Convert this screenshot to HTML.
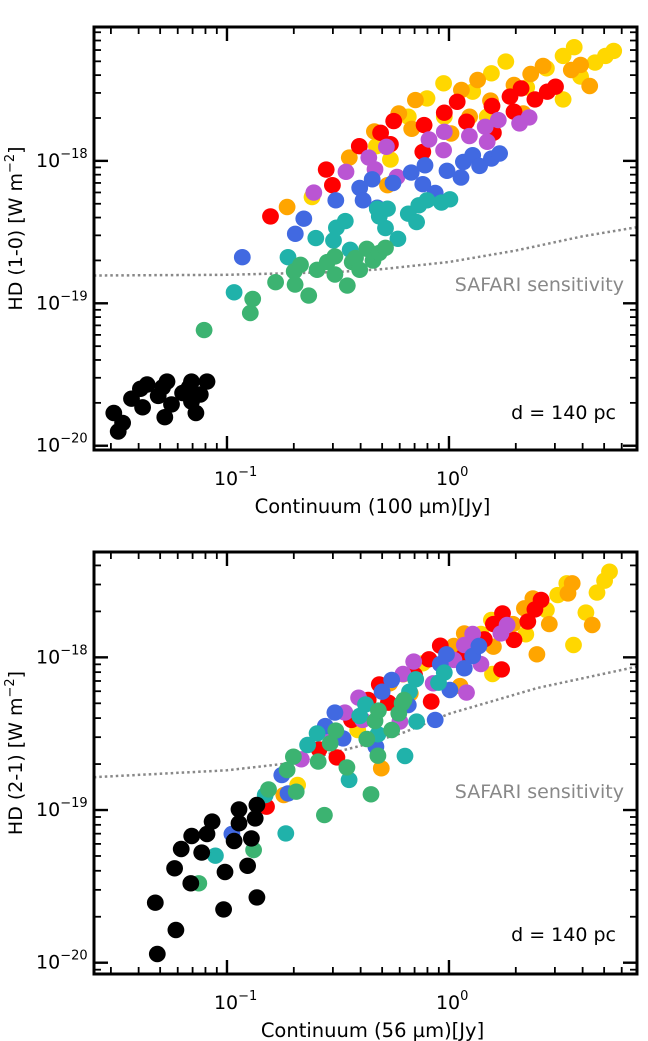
<!DOCTYPE html>
<html><head><meta charset="utf-8">
<style>
html,body{margin:0;padding:0;background:#fff;}
svg{display:block;font-family:"DejaVu Sans","Liberation Sans",sans-serif;}
</style></head>
<body>
<svg id="fig" width="648" height="1041" viewBox="0 0 648 1041" xmlns="http://www.w3.org/2000/svg"></svg>
<script>
// ---------- DATA (log10 values) ----------
const colorNames = ['gold','orange','red','purple','blue','teal','green','black'];
const colorHex = {gold:'#ffd700',orange:'#ffa500',red:'#ff0000',purple:'#ba55d3',blue:'#4169e1',teal:'#20b2aa',green:'#3cb371',black:'#000000'};

const topGoldX=[-0.617,-0.327,-0.264,-0.183,-0.099,-0.024,-0.021,0.107,0.172,0.191,0.256,0.350,0.439,0.514,0.514,0.564,0.593,0.658,0.705,0.742];
const topGoldY=[-18.254,-17.897,-17.991,-17.690,-17.561,-17.455,-17.690,-17.514,-17.690,-17.385,-17.303,-17.484,-17.350,-17.568,-17.263,-17.202,-17.408,-17.310,-17.263,-17.228];
const topOrangeX=[-0.729,-0.449,-0.336,-0.277,-0.226,-0.168,-0.151,0.009,0.056,0.093,0.129,0.187,0.293,0.335,0.368,0.424,0.551,0.593,0.634];
const topOrangeY=[-18.324,-17.977,-17.793,-18.171,-17.667,-17.775,-17.573,-17.808,-17.502,-17.690,-17.432,-17.577,-17.467,-17.667,-17.390,-17.333,-17.362,-17.326,-17.474];
const topRedX=[-0.804,-0.553,-0.525,-0.404,-0.308,-0.264,-0.249,-0.118,-0.112,-0.021,0.037,0.079,0.194,0.200,0.275,0.293,0.325,0.387,0.443,0.480];
const topRedY=[-18.390,-18.061,-18.171,-17.897,-17.803,-17.883,-17.721,-17.937,-17.749,-17.662,-17.585,-17.725,-17.615,-17.803,-17.549,-17.655,-17.491,-17.568,-17.514,-17.479];
const topPurpleX=[-0.609,-0.464,-0.361,-0.333,-0.282,-0.234,-0.090,-0.024,-0.021,0.092,0.172,0.163,0.222,0.318,0.361];
const topPurpleY=[-18.223,-18.077,-17.977,-18.059,-17.901,-18.113,-17.850,-17.925,-17.796,-17.826,-17.866,-17.761,-17.714,-17.737,-17.695];
const topBlueX=[-0.931,-0.692,-0.654,-0.510,-0.402,-0.387,-0.346,-0.323,-0.252,-0.170,-0.118,-0.108,-0.062,-0.009,0.054,0.065,0.107,0.138,0.191,0.228];
const topBlueY=[-18.676,-18.512,-18.406,-18.277,-18.190,-18.277,-18.129,-18.329,-18.155,-18.082,-18.164,-18.031,-18.225,-18.070,-18.117,-18.007,-17.960,-18.035,-17.984,-17.948];
const topTealX=[-0.968,-0.725,-0.600,-0.520,-0.507,-0.467,-0.445,-0.323,-0.314,-0.286,-0.277,-0.230,-0.183,-0.146,-0.136,-0.099,-0.034,0.004];
const topTealY=[-18.923,-18.676,-18.542,-18.559,-18.469,-18.423,-18.624,-18.336,-18.390,-18.472,-18.336,-18.547,-18.371,-18.430,-18.312,-18.277,-18.293,-18.270];
const topGreenX=[-1.103,-0.895,-0.884,-0.781,-0.693,-0.697,-0.669,-0.632,-0.594,-0.548,-0.514,-0.514,-0.458,-0.436,-0.421,-0.402,-0.370,-0.342,-0.314,-0.286];
const topGreenY=[-19.188,-19.068,-18.969,-18.852,-18.869,-18.775,-18.730,-18.946,-18.765,-18.711,-18.671,-18.798,-18.876,-18.711,-18.681,-18.765,-18.617,-18.700,-18.646,-18.610];
const topBlackX=[-1.51,-1.49,-1.47,-1.43,-1.39,-1.38,-1.36,-1.31,-1.29,-1.27,-1.28,-1.25,-1.20,-1.17,-1.16,-1.16,-1.14,-1.12,-1.09];
const topBlackY=[-19.77,-19.90,-19.84,-19.67,-19.60,-19.73,-19.57,-19.65,-19.59,-19.55,-19.80,-19.71,-19.63,-19.59,-19.55,-19.69,-19.77,-19.64,-19.55];

const botGoldX=[-0.682,-0.411,-0.118,0.144,0.196,0.191,0.346,0.439,0.490,0.531,0.561,0.617,0.667,0.701,0.723];
const botGoldY=[-18.836,-18.476,-18.039,-17.847,-18.109,-17.755,-17.849,-17.690,-17.592,-17.515,-17.919,-17.707,-17.576,-17.498,-17.439];
const botOrangeX=[-0.744,-0.305,-0.267,-0.206,-0.174,0.022,0.050,0.069,0.200,0.288,0.340,0.378,0.396,0.452,0.536,0.555,0.645];
const botOrangeY=[-18.902,-18.727,-18.170,-18.111,-18.236,-17.926,-18.188,-17.843,-17.930,-17.782,-17.679,-17.614,-17.980,-17.782,-17.581,-17.515,-17.788];
const botRedX=[-0.822,-0.585,-0.505,-0.439,-0.364,-0.314,-0.273,-0.155,-0.090,-0.080,-0.039,0.065,0.159,0.237,0.200,0.241,0.293,0.355,0.387,0.415];
const botRedY=[-18.978,-18.603,-18.655,-18.410,-18.279,-18.177,-18.297,-18.116,-18.013,-18.290,-17.924,-17.996,-17.882,-18.079,-17.782,-17.712,-17.886,-17.766,-17.686,-17.624];
const botPurpleX=[-0.665,-0.529,-0.469,-0.407,-0.389,-0.221,-0.207,-0.159,-0.071,0.022,0.069,0.107,0.144,0.079,0.234,0.262];
const botPurpleY=[-18.668,-18.498,-18.362,-18.264,-18.410,-18.421,-18.109,-18.028,-18.170,-18.017,-17.919,-17.847,-18.044,-18.231,-17.843,-17.788];
const botBlueX=[-0.978,-0.753,-0.725,-0.557,-0.514,-0.477,-0.329,-0.301,-0.258,-0.183,-0.062,-0.039,-0.011,0.004,0.069,0.107,0.135];
const botBlueY=[-19.157,-18.771,-18.891,-18.450,-18.362,-18.531,-18.585,-18.225,-18.148,-18.312,-18.410,-18.044,-17.980,-18.214,-18.072,-17.991,-17.926];
const botTealX=[-1.052,-0.828,-0.735,-0.637,-0.594,-0.450,-0.402,-0.376,-0.320,-0.198,-0.178,-0.146,-0.150,-0.047,-0.021];
const botTealY=[-19.299,-18.902,-19.153,-18.574,-18.498,-18.803,-18.384,-18.308,-18.504,-18.646,-18.225,-18.421,-18.144,-18.166,-18.100];
const botGreenX=[-1.127,-0.880,-0.813,-0.701,-0.729,-0.688,-0.589,-0.561,-0.535,-0.510,-0.460,-0.370,-0.351,-0.333,-0.320,-0.318,-0.258,-0.226,-0.211,-0.202];
const botGreenY=[-19.480,-19.262,-18.865,-18.651,-18.738,-18.880,-18.683,-19.033,-18.563,-18.480,-18.721,-18.535,-18.897,-18.417,-18.644,-18.349,-18.476,-18.367,-18.301,-18.279];
const botBlackX=[-1.323,-1.314,-1.230,-1.236,-1.206,-1.163,-1.159,-1.114,-1.090,-1.067,-1.015,-1.009,-0.968,-0.946,-0.946,-0.907,-0.890,-0.873,-0.865,-0.865];
const botBlackY=[-19.607,-19.943,-19.786,-19.382,-19.255,-19.480,-19.170,-19.279,-19.157,-19.076,-19.651,-19.406,-19.203,-18.996,-19.087,-19.365,-19.186,-19.055,-18.967,-19.572];

const topSensX=[-1.6,-1.0,-0.5,-0.3,0.0,0.3,0.6,0.85];
const topSensY=[-18.805,-18.80,-18.78,-18.76,-18.71,-18.63,-18.53,-18.465];
const botSensX=[-1.6,-1.0,-0.7,-0.4,-0.2,0.0,0.4,0.85];
const botSensY=[-18.785,-18.74,-18.69,-18.58,-18.49,-18.37,-18.20,-18.06];

const xTickLabels=['−1','0'];
const xTickDecades=[-1,0];
const yTickDecades=[-18,-19,-20];
const yTickLabels=['−18','−19','−20'];

// ---------- DRAW ----------
const NS='http://www.w3.org/2000/svg';
const svg=document.getElementById('fig');
function mk(tag,attrs,parent){const e=document.createElementNS(NS,tag);for(const k in attrs)e.setAttribute(k,attrs[k]);(parent||svg).appendChild(e);return e;}

const panels=[
 {key:'top',x0:94,x1:637,y0:27,y1:450,xmin:-1.599,xmax:0.847,ymin:-20.03,ymax:-17.06,
  data:{gold:[topGoldX,topGoldY],orange:[topOrangeX,topOrangeY],red:[topRedX,topRedY],purple:[topPurpleX,topPurpleY],blue:[topBlueX,topBlueY],teal:[topTealX,topTealY],green:[topGreenX,topGreenY],black:[topBlackX,topBlackY]},
  sx:topSensX,sy:topSensY,ylabel:'HD (1-0) [W m',xlabel:'Continuum (100 µm)[Jy]',safY:291,dY:419},
 {key:'bottom',x0:94,x1:637,y0:552,y1:974,xmin:-1.599,xmax:0.847,ymin:-20.074,ymax:-17.31,
  data:{gold:[botGoldX,botGoldY],orange:[botOrangeX,botOrangeY],red:[botRedX,botRedY],purple:[botPurpleX,botPurpleY],blue:[botBlueX,botBlueY],teal:[botTealX,botTealY],green:[botGreenX,botGreenY],black:[botBlackX,botBlackY]},
  sx:botSensX,sy:botSensY,ylabel:'HD (2-1) [W m',xlabel:'Continuum (56 µm)[Jy]',safY:798,dY:941}
];

panels.forEach(p=>{
 const X=v=>p.x0+(v-p.xmin)/(p.xmax-p.xmin)*(p.x1-p.x0);
 const Y=v=>p.y1-(v-p.ymin)/(p.ymax-p.ymin)*(p.y1-p.y0);
 const g=mk('g',{});
 
 
 const clip=mk('clipPath',{id:'clip-'+p.key},g);
 mk('rect',{x:p.x0,y:p.y0,width:p.x1-p.x0,height:p.y1-p.y0},clip);
 let d='';
 p.sx.forEach((v,i)=>{d+=(i?'L':'M')+X(v).toFixed(1)+' '+Y(p.sy[i]).toFixed(1);});
 const sens=mk('path',{d:d,fill:'none',stroke:'#888','stroke-width':2.5,'stroke-dasharray':'2.5 3','clip-path':'url(#clip-'+p.key+')'},g);
 
 
 colorNames.forEach(c=>{
  const [xs,ys]=p.data[c];
  const sg=mk('g',{fill:colorHex[c],'clip-path':'url(#clip-'+p.key+')'},g);
  
  
  xs.forEach((v,i)=>{
   const e=mk('ellipse',{cx:X(v).toFixed(1),cy:Y(ys[i]).toFixed(1),rx:8.4,ry:8.2},sg);
   
   
  });
 });
 const tg=mk('g',{stroke:'#000','stroke-width':1.8},g);
 
 
 for(let dec=-2;dec<=1;dec++){for(let m=1;m<=9;m++){
  const lv=dec+Math.log10(m); if(lv<p.xmin||lv>p.xmax)continue;
  const xx=X(lv), L=m===1?14:7, w=m===1?2.4:1.8;
  mk('line',{x1:xx,y1:p.y1,x2:xx,y2:p.y1-L,'stroke-width':w},tg);
  mk('line',{x1:xx,y1:p.y0,x2:xx,y2:p.y0+L,'stroke-width':w},tg);
 }}
 for(let dec=-21;dec<=-17;dec++){for(let m=1;m<=9;m++){
  const lv=dec+Math.log10(m); if(lv<p.ymin||lv>p.ymax)continue;
  const yy=Y(lv), L=m===1?14:7, w=m===1?2.4:1.8;
  mk('line',{x1:p.x0,y1:yy,x2:p.x0+L,y2:yy,'stroke-width':w},tg);
  mk('line',{x1:p.x1,y1:yy,x2:p.x1-L,y2:yy,'stroke-width':w},tg);
 }}
 const fr=mk('rect',{x:p.x0,y:p.y0,width:p.x1-p.x0,height:p.y1-p.y0,fill:'none',stroke:'#000','stroke-width':3},g);
 
 
 xTickDecades.forEach((dv,i)=>{
  const t=mk('text',{x:X(dv)-13,y:p.y1+35,'font-size':19,fill:'#000'},g);
  
  
  t.appendChild(document.createTextNode('10'));
  const s=mk('tspan',{dy:-9,'font-size':13},t); s.textContent=xTickLabels[i];
 });
 yTickDecades.forEach((dv,i)=>{
  const t=mk('text',{x:36,y:Y(dv)+6,'font-size':19,fill:'#000'},g);
  
  
  t.appendChild(document.createTextNode('10'));
  const s=mk('tspan',{dy:-9,'font-size':13},t); s.textContent=yTickLabels[i];
 });
 const xl=mk('text',{x:(p.x0+p.x1)/2+7,y:p.y1+63,'font-size':19.5,'text-anchor':'middle',fill:'#000'},g);
 
 
 xl.textContent=p.xlabel;
 const cy=(p.y0+p.y1)/2-10;
 const yl=mk('text',{x:0,y:0,'font-size':19,'text-anchor':'middle',fill:'#000',transform:'translate(22,'+cy+') rotate(-90)'},g);
 
 
 yl.appendChild(document.createTextNode(p.ylabel));
 const sup=mk('tspan',{dy:-8,'font-size':13},yl); sup.textContent='−2';
 const cl=mk('tspan',{dy:8},yl); cl.textContent=']';
 const saf=mk('text',{x:624,y:p.safY,'font-size':19,'text-anchor':'end',fill:'#888'},g);
 
 
 saf.textContent='SAFARI sensitivity';
 const dd=mk('text',{x:616,y:p.dY,'font-size':19,'text-anchor':'end',fill:'#000'},g);
 
 
 dd.textContent='d = 140 pc';
});
</script>
</body></html>
